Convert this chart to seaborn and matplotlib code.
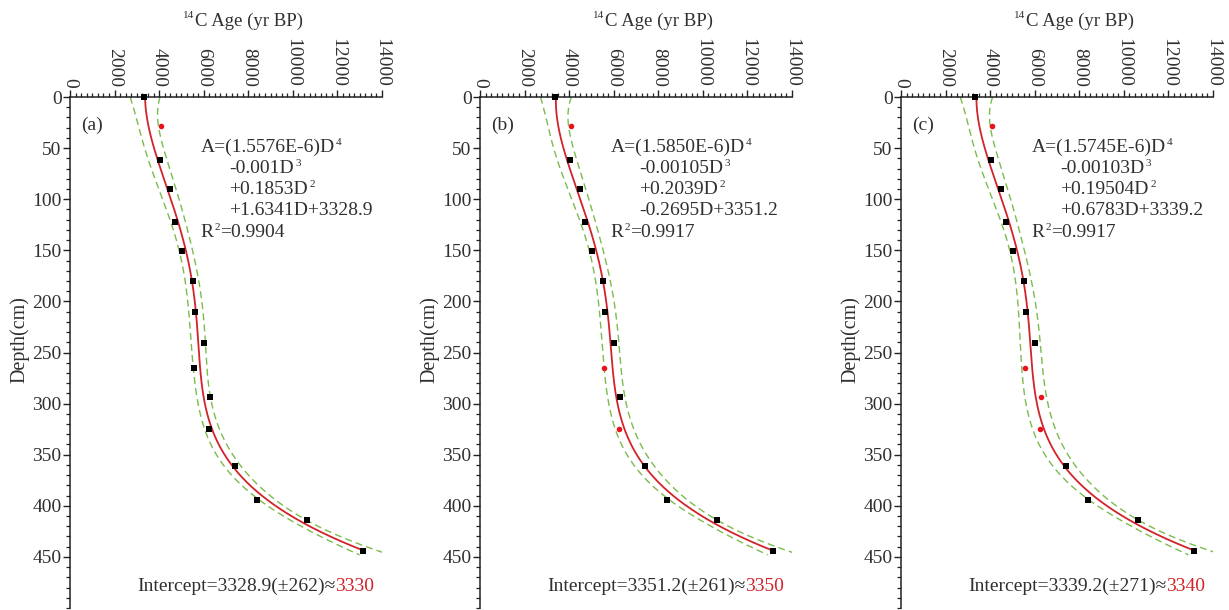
import numpy as np
import pandas as pd
import matplotlib
matplotlib.use("Agg")
import matplotlib.pyplot as plt
from matplotlib.ticker import MultipleLocator, FixedLocator
import seaborn as sns

# ---------------- data ----------------
depths = [28, 62, 90, 122, 151, 180, 210, 241, 265, 294, 325, 361, 394, 414, 444]
ages = [4100, 4035, 4470, 4730, 5040, 5510, 5630, 6010, 5575, 6275, 6225, 7385, 8410, 10635, 13130]
surface_ages = [3330, 3350, 3340]          # samples at depth 0 cm
panel_labels = ["(a)", "(b)", "(c)"]
outlier_depths = [[28], [28, 265, 325], [28, 265, 294, 325]]
eq_first = ["A=(1.5576E-6)D", "A=(1.5850E-6)D", "A=(1.5745E-6)D"]
eq_mid = [["-0.001D", "+0.1853D", "+1.6341D+3328.9"],
          ["-0.00105D", "+0.2039D", "-0.2695D+3351.2"],
          ["-0.00103D", "+0.19504D", "+0.6783D+3339.2"]]
eq_powers = ["4", "3", "2", ""]
r2_values = ["0.9904", "0.9917", "0.9917"]
intercepts = ["3328.9", "3351.2", "3339.2"]
intercept_err = ["262", "261", "271"]
intercept_round = [3330, 3350, 3340]
band_t = [2.7, 2.8, 2.85]
x_ticks = [0, 2000, 4000, 6000, 8000, 10000, 12000, 14000]
y_ticks = [0, 50, 100, 150, 200, 250, 300, 350, 400, 450]

# ---------------- style ----------------
sns.set_theme(style="ticks")
plt.rcParams["font.family"] = ["Liberation Serif", "DejaVu Serif"]

TXT = "#303030"
AX = "#222222"
RED = "#d2232a"
GREEN = "#7cbb4c"
FS = 14
SUP = 8

fig = plt.figure(figsize=(12.29, 6.10), dpi=100)
lefts = [70 / 1229, 480 / 1229, 901 / 1229]
width = 312 / 1229
bottom = 2 / 610
height = 511 / 610


def sup_text(ax, x, y, main, power):
    t = ax.text(x, y, main, fontsize=FS, color=TXT, va="baseline", ha="left")
    if power:
        ax.annotate(power, xy=(1.0, 0.78), xycoords=t, fontsize=SUP,
                    color=TXT, ha="left", va="center", xytext=(1, 0),
                    textcoords="offset points")
    return t


for i in range(3):
    ax = fig.add_axes([lefts[i], bottom, width, height])
    df = pd.DataFrame({"depth": [0] + depths, "age": [surface_ages[i]] + ages})
    out = df["depth"].isin(outlier_depths[i])
    good = df[~out]
    bad = df[out]

    # 4th-order polynomial regression of age on depth, with confidence band
    xs = good["depth"].to_numpy() / 100.0
    coef, cov = np.polyfit(xs, good["age"].to_numpy(), 4, cov=True)
    grid = np.linspace(0, depths[-1], 300)
    fit = np.vander(grid / 100.0, 5) @ coef
    gridb = np.linspace(0, depths[-1] + 4, 300)
    Vb = np.vander(gridb / 100.0, 5)
    fitb = Vb @ coef
    seb = np.sqrt(np.einsum("ij,jk,ik->i", Vb, cov, Vb))

    fit_df = pd.DataFrame({"depth": grid, "age": fit})
    lo_df = pd.DataFrame({"depth": gridb, "age": fitb - band_t[i] * seb})
    hi_df = pd.DataFrame({"depth": gridb, "age": fitb + band_t[i] * seb})

    for bdf in (lo_df, hi_df):
        sns.lineplot(data=bdf, x="age", y="depth", sort=False, estimator=None,
                     orient="y", color=GREEN, lw=1.0, ax=ax,
                     linestyle=(0, (5, 3)))
    sns.lineplot(data=fit_df, x="age", y="depth", sort=False, estimator=None,
                 orient="y", color=RED, lw=1.3, ax=ax)

    sns.scatterplot(data=good, x="age", y="depth", marker="s", color="black",
                    s=22, linewidth=0, ax=ax, zorder=5, clip_on=False)
    sns.scatterplot(data=bad, x="age", y="depth", marker="o", color="#e8141b",
                    s=16, linewidth=0, ax=ax, zorder=5)

    ax.set_xlim(0, 14000)
    ax.set_ylim(500, 0)
    ax.xaxis.tick_top()
    ax.xaxis.set_label_position("top")
    ax.xaxis.set_major_locator(FixedLocator(x_ticks))
    ax.xaxis.set_minor_locator(MultipleLocator(250))
    ax.yaxis.set_major_locator(FixedLocator(y_ticks))
    ax.yaxis.set_minor_locator(MultipleLocator(10))
    ax.set_xticklabels([str(v) for v in x_ticks])
    ax.set_yticklabels([str(v) for v in y_ticks])
    for s in ("right", "bottom"):
        ax.spines[s].set_visible(False)
    for s in ("left", "top"):
        ax.spines[s].set_color(AX)
        ax.spines[s].set_linewidth(1.1)
    ax.tick_params(axis="x", which="both", top=True, bottom=False,
                   labeltop=True, labelbottom=False, direction="out",
                   colors=AX, labelcolor=TXT, labelsize=14, labelrotation=-90)
    ax.tick_params(axis="x", which="major", length=5, width=1.0, pad=2)
    ax.tick_params(axis="x", which="minor", length=3, width=0.9)
    ax.tick_params(axis="y", which="both", direction="out", colors=AX,
                   labelcolor=TXT, labelsize=14)
    ax.tick_params(axis="y", which="major", length=5, width=1.0, pad=1)
    ax.tick_params(axis="y", which="minor", length=3, width=0.9)

    ax.set_xlabel("C Age (yr BP)", fontsize=13.5, color=TXT)
    ax.xaxis.set_label_coords(0.575, 1.149)
    ax.xaxis.label.set_va("center")
    ax.annotate("14", xy=(0.0, 0.8), xycoords=ax.xaxis.label, fontsize=8,
                color=TXT, ha="right", va="center", xytext=(-0.5, 0),
                textcoords="offset points")
    ax.set_ylabel("Depth(cm)", fontsize=14.5, color=TXT)
    ax.yaxis.set_label_coords(-0.162, 0.526)
    ax.yaxis.label.set_va("center")

    ax.text(520, 28, panel_labels[i], fontsize=FS, color=TXT, va="center", ha="left")
    sup_text(ax, 5850, 54, eq_first[i], eq_powers[0])
    for k, line in enumerate(eq_mid[i]):
        sup_text(ax, 7150, 74 + 20.5 * k, line, eq_powers[k + 1])
    r = ax.text(5850, 136.5, "R", fontsize=FS, color=TXT, va="baseline", ha="left")
    sp = ax.annotate("2", xy=(1.0, 0.78), xycoords=r, fontsize=SUP, color=TXT,
                     ha="left", va="center", xytext=(0.5, 0),
                     textcoords="offset points")
    ax.annotate("=" + r2_values[i], xy=(1.0, 0.0), xycoords=(sp, r), fontsize=FS,
                color=TXT, ha="left", va="bottom", xytext=(0.3, 0),
                textcoords="offset points")
    ax.text(11900, 483, f"Intercept={intercepts[i]}(\u00b1{intercept_err[i]})\u2248",
            fontsize=FS, color=TXT, va="baseline", ha="right")
    ax.text(11900, 483, str(intercept_round[i]), fontsize=FS, color=RED,
            va="baseline", ha="left")

fig.savefig("out.png", dpi=100)
